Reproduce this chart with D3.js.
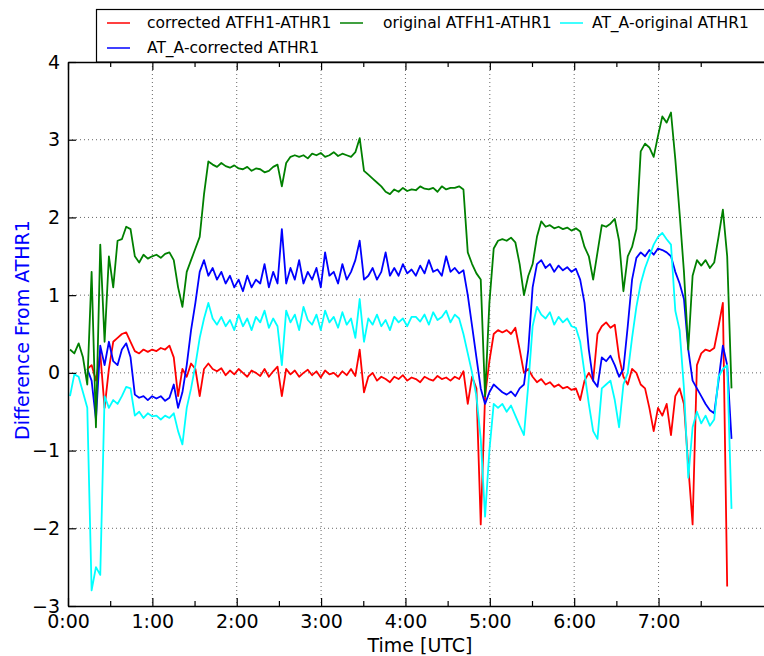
<!DOCTYPE html>
<html>
<head>
<meta charset="utf-8">
<script src="https://cdn.jsdelivr.net/npm/d3@7"></script>
<style>
  body { margin: 0; background: #fff; }
  svg { font-family: "DejaVu Sans", sans-serif; }
</style>
</head>
<body>
<div id="chart"></div>
<script>
// samples, one every ~3 min starting at ~0:01 (minutes)
const sampleStart = 1.42;
const sampleStep = 3.075;

const redValues = [null, null, null, null, 0.05, 0.10, -0.10, 0.25, -0.45, 0.05,
    0.40, 0.45, 0.50, 0.52, 0.40, 0.28, 0.25, 0.30, 0.27, 0.30,
    0.28, 0.32, 0.30, 0.35, 0.20, -0.30, 0.05, -0.05, 0.12, 0.05,
    -0.30, 0.05, 0.12, 0.05, 0.02, 0.06, -0.03, 0.03, -0.02, 0.05,
    0.00, -0.05, 0.03, 0.00, -0.04, 0.05, -0.05, 0.02, 0.08, -0.30,
    0.05, -0.02, 0.03, -0.05, 0.00, 0.04, -0.03, 0.02, -0.06, 0.03,
    -0.02, 0.00, -0.05, 0.02, -0.03, 0.05, -0.04, 0.30, -0.25, -0.05,
    0.00, -0.10, -0.05, -0.08, -0.12, -0.05, -0.08, -0.03, -0.10, -0.06,
    -0.08, -0.12, -0.05, -0.08, -0.10, -0.04, -0.08, -0.06, -0.10, -0.05,
    -0.08, 0.02, -0.40, -0.05, -0.20, -1.95, -0.30, 0.15, 0.50, 0.55,
    0.52, 0.55, 0.50, 0.58, 0.30, 0.00, 0.05, -0.05, -0.12, -0.08,
    -0.15, -0.12, -0.18, -0.15, -0.20, -0.18, -0.22, -0.20, -0.35, -0.10,
    0.00, -0.10, 0.50, 0.60, 0.65, 0.58, 0.62, 0.20, -0.05, -0.15,
    0.05, 0.00, -0.15, -0.20, -0.45, -0.75, -0.45, -0.55, -0.40, -0.80,
    -0.30, -0.20, -0.40, -1.20, -1.95, 0.10, 0.25, 0.30, 0.28, 0.32,
    0.60, 0.90, -2.75, null];

const blueValues = [null, null, null, null, 0.05, -0.10, -0.60, 0.35, 0.10, 0.40,
    0.15, 0.10, 0.30, 0.38, 0.20, -0.28, -0.32, -0.30, -0.35, -0.30,
    -0.33, -0.30, -0.36, -0.32, -0.15, -0.45, -0.25, 0.10, 0.55, 0.90,
    1.30, 1.45, 1.25, 1.35, 1.20, 1.30, 1.15, 1.25, 1.10, 1.20,
    1.05, 1.25, 1.10, 1.20, 1.15, 1.40, 1.10, 1.30, 1.15, 1.85,
    1.15, 1.35, 1.20, 1.45, 1.15, 1.30, 1.20, 1.35, 1.10, 1.55,
    1.25, 1.30, 1.15, 1.40, 1.20, 1.30, 1.45, 1.70, 1.20, 1.25,
    1.35, 1.20, 1.30, 1.55, 1.25, 1.35, 1.25, 1.40, 1.28, 1.33,
    1.25, 1.38, 1.28, 1.45, 1.30, 1.33, 1.25, 1.50, 1.30, 1.35,
    1.28, 1.32, 1.00, 0.60, 0.20, -0.20, -0.40, -0.25, -0.15, -0.20,
    -0.25, -0.28, -0.24, -0.30, -0.20, -0.15, 0.30, 1.10, 1.40, 1.45,
    1.35, 1.40, 1.30, 1.38, 1.32, 1.36, 1.30, 1.34, 1.20, 0.90,
    0.30, -0.10, -0.18, 0.20, 0.15, 0.22, 0.10, -0.05, 0.05, 0.60,
    1.20, 1.48, 1.55, 1.50, 1.58, 1.52, 1.60, 1.58, 1.55, 1.50,
    1.30, 1.15, 0.95, 0.30, -0.10, -0.20, -0.30, -0.40, -0.48, -0.52,
    -0.10, 0.35, 0.10, -0.85];

const greenValues = [0.30, 0.25, 0.38, 0.20, -0.15, 1.30, -0.70, 1.65, 0.40, 1.50,
    1.10, 1.70, 1.72, 1.88, 1.85, 1.50, 1.42, 1.52, 1.47, 1.50,
    1.52, 1.48, 1.53, 1.55, 1.45, 1.10, 0.85, 1.30, 1.45, 1.60,
    1.75, 2.30, 2.72, 2.68, 2.65, 2.70, 2.66, 2.64, 2.67, 2.63,
    2.62, 2.65, 2.60, 2.63, 2.62, 2.58, 2.60, 2.65, 2.68, 2.40,
    2.70, 2.78, 2.80, 2.78, 2.80, 2.76, 2.82, 2.80, 2.83, 2.78,
    2.80, 2.84, 2.79, 2.82, 2.80, 2.78, 2.84, 3.02, 2.60, 2.55,
    2.50, 2.45, 2.40, 2.33, 2.30, 2.36, 2.33, 2.38, 2.34, 2.36,
    2.35, 2.40, 2.37, 2.36, 2.38, 2.33, 2.40, 2.36, 2.38, 2.38,
    2.40, 2.36, 1.55, 1.40, 1.28, 1.20, -0.30, 0.90, 1.60, 1.70,
    1.72, 1.70, 1.74, 1.68, 1.40, 1.00, 1.25, 1.40, 1.75, 1.95,
    1.88, 1.90, 1.86, 1.88, 1.85, 1.87, 1.83, 1.86, 1.82, 1.62,
    1.50, 1.20, 1.55, 1.90, 1.88, 1.92, 1.98, 1.70, 1.05, 1.50,
    1.62, 1.85, 2.85, 2.95, 2.90, 2.78, 3.05, 3.30, 3.22, 3.35,
    2.75, 2.05, 1.30, 0.30, 1.25, 1.45, 1.38, 1.45, 1.35, 1.42,
    1.75, 2.10, 1.50, -0.20];

const cyanValues = [-0.30, -0.02, -0.05, -0.25, -0.45, -2.80, -2.50, -2.60, -0.30, -0.45,
    -0.35, -0.40, -0.30, -0.18, -0.20, -0.55, -0.50, -0.58, -0.52, -0.56,
    -0.55, -0.60, -0.55, -0.58, -0.52, -0.75, -0.92, -0.45, -0.20, 0.10,
    0.45, 0.70, 0.90, 0.70, 0.62, 0.72, 0.60, 0.68, 0.55, 0.75,
    0.60, 0.70, 0.55, 0.72, 0.65, 0.80, 0.58, 0.70, 0.60, 0.10,
    0.80, 0.65, 0.75, 0.55, 0.85, 0.68, 0.62, 0.75, 0.55, 0.80,
    0.65, 0.72, 0.58, 0.78, 0.62, 0.70, 0.45, 0.95, 0.40, 0.70,
    0.62, 0.75, 0.60, 0.68, 0.55, 0.72, 0.65, 0.70, 0.60, 0.72,
    0.72, 0.66, 0.75, 0.62, 0.78, 0.68, 0.72, 0.80, 0.65, 0.75,
    0.70, 0.50, 0.25, 0.00, -0.30, -0.85, -1.85, -1.00, -0.40, -0.45,
    -0.40, -0.50, -0.42, -0.55, -0.68, -0.80, -0.15, 0.60, 0.85, 0.75,
    0.70, 0.78, 0.62, 0.72, 0.65, 0.70, 0.60, 0.58, 0.40, 0.00,
    -0.40, -0.75, -0.85, -0.20, -0.15, -0.10, -0.35, -0.70, -0.15, 0.00,
    0.45, 0.85, 1.15, 1.35, 1.50, 1.65, 1.75, 1.80, 1.72, 1.65,
    0.80, 0.55, -0.20, -1.35, -0.70, -0.50, -0.65, -0.55, -0.68, -0.60,
    -0.05, 0.05, 0.10, -1.75];

const seriesNames = ["corrected ATFH1-ATHR1", "AT_A-corrected ATHR1", "original ATFH1-ATHR1", "AT_A-original ATHR1"];
const seriesColors = ["#ff0000", "#0000ff", "#008000", "#00ffff"];
const seriesValues = [redValues, blueValues, greenValues, cyanValues];

const xTicks = [0, 60, 120, 180, 240, 300, 360, 420];
const xMinorTicks = [30, 90, 150, 210, 270, 330, 390, 450];
const yTicks = [-3, -2, -1, 0, 1, 2, 3, 4];

const width = 764, height = 656;
const plotLeft = 68, plotRight = 764, plotTop = 62, plotBottom = 606;

const svg = d3.select("#chart").append("svg")
    .attr("width", width)
    .attr("height", height);

const x = d3.scaleLinear().domain([0, 495]).range([plotLeft, plotRight]);
const y = d3.scaleLinear().domain([-3, 4]).range([plotBottom, plotTop]);

svg.append("clipPath").attr("id", "plotClip")
    .append("rect")
    .attr("x", plotLeft).attr("y", plotTop)
    .attr("width", plotRight - plotLeft).attr("height", plotBottom - plotTop);

// dotted grid
const grid = svg.append("g").attr("class", "grid");
grid.selectAll("line.h")
    .data(yTicks.filter(v => v > -3 && v < 4))
    .enter().append("line")
    .attr("x1", plotLeft).attr("x2", plotRight)
    .attr("y1", d => y(d)).attr("y2", d => y(d))
    .attr("stroke", "#666")
    .attr("stroke-width", 1)
    .attr("stroke-dasharray", "1,3");
grid.selectAll("line.v")
    .data(xTicks.filter(v => v > 0))
    .enter().append("line")
    .attr("x1", d => x(d)).attr("x2", d => x(d))
    .attr("y1", plotTop).attr("y2", plotBottom)
    .attr("stroke", "#666")
    .attr("stroke-width", 1)
    .attr("stroke-dasharray", "1,3");

// the four series (drawn in legend column order)
const line = d3.line()
    .defined(d => d[1] != null)
    .x(d => x(d[0]))
    .y(d => y(d[1]));

const linesGroup = svg.append("g").attr("clip-path", "url(#plotClip)");
seriesValues.forEach((vals, k) => {
    const pts = vals.map((v, i) => [sampleStart + i * sampleStep, v]);
    linesGroup.append("path")
        .datum(pts)
        .attr("fill", "none")
        .attr("stroke", seriesColors[k])
        .attr("stroke-width", 1.8)
        .attr("stroke-linejoin", "round")
        .attr("d", line);
});

const fmtTime = d => (d / 60) + ":00";

// axes, ticks pointing inward
svg.append("g")
    .attr("transform", `translate(0,${plotBottom})`)
    .call(d3.axisBottom(x).tickValues(xTicks).tickFormat(fmtTime)
        .tickSizeInner(-8).tickSizeOuter(0).tickPadding(9));
svg.append("g")
    .attr("transform", `translate(0,${plotBottom})`)
    .call(d3.axisBottom(x).tickValues(xMinorTicks).tickFormat("")
        .tickSizeInner(-5).tickSizeOuter(0))
    .select(".domain").remove();

svg.append("g")
    .attr("transform", `translate(0,${plotTop})`)
    .call(d3.axisTop(x).tickValues(xTicks).tickFormat("")
        .tickSizeInner(-8).tickSizeOuter(0));
svg.append("g")
    .attr("transform", `translate(0,${plotTop})`)
    .call(d3.axisTop(x).tickValues(xMinorTicks).tickFormat("")
        .tickSizeInner(-5).tickSizeOuter(0))
    .select(".domain").remove();

svg.append("g")
    .attr("transform", `translate(${plotLeft},0)`)
    .call(d3.axisLeft(y).tickValues(yTicks).tickFormat(d3.format("d"))
        .tickSizeInner(-8).tickSizeOuter(0).tickPadding(8));

svg.selectAll(".domain").attr("stroke", "#000").attr("stroke-width", 1.5);
svg.selectAll(".tick line").attr("stroke", "#000").attr("stroke-width", 1.2);
svg.selectAll(".tick text")
    .attr("fill", "#000")
    .style("font-size", "19px");
svg.selectAll("g").attr("font-family", null);

// axis titles
svg.append("text")
    .attr("x", 420).attr("y", 652)
    .attr("text-anchor", "middle")
    .style("font-size", "19px")
    .text("Time [UTC]");

svg.append("text")
    .attr("transform", "translate(22,330) rotate(-90)")
    .attr("text-anchor", "middle")
    .attr("dy", "0.35em")
    .attr("fill", "#0000ff")
    .style("font-size", "19px")
    .text("Difference From ATHR1");

// legend, 3 columns filled top to bottom like matplotlib
const legend = svg.append("g");
legend.append("rect")
    .attr("x", 96.5).attr("y", 9.5)
    .attr("width", 720).attr("height", 52.5)
    .attr("fill", "#fff")
    .attr("stroke", "#000")
    .attr("stroke-width", 1.2);

// [line start, text start, row y]
const legendSlots = [[107, 147, 23], [107, 147, 48], [340, 383, 23], [560, 592, 23]];
seriesNames.forEach((name, k) => {
    const [lx, tx, ly] = legendSlots[k];
    legend.append("line")
        .attr("x1", lx).attr("x2", lx + 23)
        .attr("y1", ly).attr("y2", ly)
        .attr("stroke", seriesColors[k])
        .attr("stroke-width", 1.5);
    legend.append("text")
        .attr("x", tx)
        .attr("y", ly)
        .attr("dy", "0.35em")
        .style("font-size", "15.5px")
        .text(name);
});
</script>
</body>
</html>
